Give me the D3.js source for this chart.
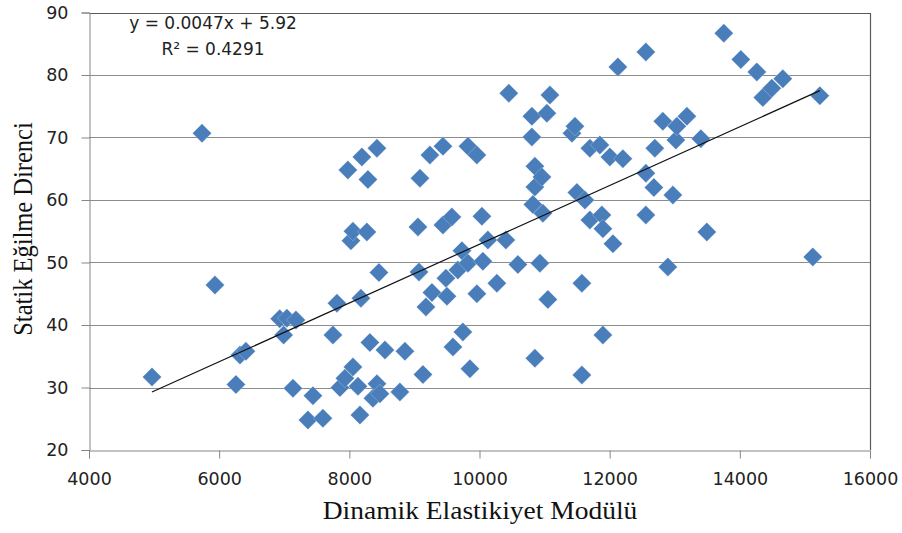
<!DOCTYPE html>
<html>
<head>
<meta charset="utf-8">
<script src="https://cdnjs.cloudflare.com/ajax/libs/d3/7.8.5/d3.min.js"></script>
<style>
    body { margin: 0; background: #fff; }
    svg { display: block; }
</style>
</head>
<body>
<div id="chart"></div>
<script>

// dynamic elasticity modulus (x) and static bending strength (y)
var modulus = [4968, 5736, 5935, 6258, 6320, 6410, 6930, 7040, 7180, 6990,
    7134, 7364, 7441, 7594, 7810, 7748, 7856, 7932, 7978, 8025,
    8055, 8055, 8132, 8163, 8178, 8193, 8270, 8286, 8316, 8363,
    8424, 8424, 8455, 8470, 8547, 8777, 8854, 9054, 9070, 9085,
    9131, 9177, 9238, 9269, 9438, 9438, 9484, 9500, 9576, 9592,
    9668, 9730, 9745, 9822, 9822, 9853, 9960, 9960, 10037, 10052,
    10129, 10267, 10405, 10450, 10590, 10805, 10805, 10820, 10851, 10851,
    10851, 10928, 10959, 10974, 11035, 11051, 11082, 11420, 11466, 11496,
    11573, 11573, 11619, 11696, 11696, 11850, 11880, 11896, 11896, 12003,
    12050, 12126, 12203, 12556, 12556, 12556, 12679, 12694, 12817, 12894,
    12971, 13017, 13032, 13186, 13401, 13493, 13754, 14015, 14261, 14353,
    14491, 14660, 15121, 15229];
var strength = [31.7, 70.7, 46.4, 30.5, 35.2, 35.8, 41.0, 41.1, 40.8, 38.4,
    29.9, 24.8, 28.7, 25.1, 43.5, 38.4, 30.0, 31.5, 64.8, 53.5,
    55.0, 33.3, 30.2, 25.6, 44.3, 66.9, 54.9, 63.3, 37.2, 28.3,
    30.6, 68.3, 48.4, 29.0, 36.0, 29.3, 35.8, 55.7, 48.5, 63.5,
    32.1, 42.9, 67.2, 45.2, 68.6, 56.0, 47.5, 44.6, 57.3, 36.5,
    48.8, 51.9, 38.9, 49.9, 68.6, 33.0, 67.2, 45.0, 57.4, 50.2,
    53.6, 46.7, 53.6, 77.1, 49.7, 73.4, 70.1, 59.3, 65.4, 62.1,
    34.7, 49.9, 63.7, 57.9, 73.9, 44.1, 76.8, 70.7, 71.8, 61.2,
    46.7, 32.0, 60.0, 68.3, 56.8, 68.8, 57.6, 55.4, 38.4, 66.9,
    53.0, 81.3, 66.6, 83.7, 64.3, 57.6, 62.0, 68.3, 72.6, 49.3,
    60.8, 69.6, 71.8, 73.4, 69.8, 54.9, 86.7, 82.5, 80.5, 76.4,
    77.9, 79.4, 50.9, 76.7];

var xTicks = [4000, 6000, 8000, 10000, 12000, 14000, 16000];
var yTicks = [20, 30, 40, 50, 60, 70, 80, 90];
var trendSlope = 0.0047;
var trendIntercept = 5.92;
var trendLabels = ["y = 0.0047x + 5.92", "R\u00b2 = 0.4291"];
var xTitle = "Dinamik Elastikiyet Modülü";
var yTitle = "Statik Eğilme Direnci";

var width = 902, height = 533;
var margin = {top: 12.5, right: 32, bottom: 83, left: 89};

var svg = d3.select("#chart").append("svg")
    .attr("width", width)
    .attr("height", height);

var x = d3.scaleLinear().domain([4000, 16000]).range([margin.left, width - margin.right]);
var y = d3.scaleLinear().domain([20, 90]).range([height - margin.bottom, margin.top]);

var points = modulus.map(function (m, i) {
    return {x: m, y: strength[i]};
});

// horizontal gridlines
svg.append("g").selectAll("line").data(yTicks.slice(1, -1)).enter().append("line")
    .attr("x1", x(4000))
    .attr("x2", x(16000))
    .attr("y1", function (d) { return Math.round(y(d)) + 0.5 })
    .attr("y2", function (d) { return Math.round(y(d)) + 0.5 })
    .style("stroke", "#8c8c8c")
    .style("stroke-width", 1);

// plot area frame (top, right)
svg.append("path")
    .attr("d", "M" + x(4000) + "," + (Math.round(y(90)) + 0.5) + "H" + (Math.round(x(16000)) + 0.5) + "V" + y(20))
    .style("fill", "none")
    .style("stroke", "#5a5a5a")
    .style("stroke-width", 1.2);

// axes
var yAxis = svg.append("g")
    .attr("transform", "translate(" + (Math.round(x(4000)) + 0.5) + ",0)")
    .call(d3.axisLeft(y).tickValues(yTicks).tickSize(8).tickPadding(13));

var xAxis = svg.append("g")
    .attr("transform", "translate(0," + (Math.round(y(20)) + 0.5) + ")")
    .call(d3.axisBottom(x).tickValues(xTicks).tickSize(8).tickPadding(14).tickFormat(d3.format("d")));

[yAxis, xAxis].forEach(function (ax) {
    ax.select(".domain").style("stroke", "#868686");
    ax.selectAll(".tick line").style("stroke", "#868686");
    ax.selectAll(".tick text")
        .style("font-family", "'DejaVu Sans', sans-serif")
        .style("font-size", "17.5px")
        .style("fill", "#222");
});

// markers
var half = 9.5;
svg.append("g").selectAll(".pt").data(points).enter().append("path")
    .classed("pt", true)
    .attr("d", "M0," + (-half) + "L" + half + ",0L0," + half + "L" + (-half) + ",0Z")
    .attr("transform", function (d) {
        return "translate(" + x(d.x) + "," + y(d.y) + ")"
    })
    .style("fill", "#4a7ebb")
    .style("stroke", "#fff")
    .style("stroke-width", 0.4)
    .style("stroke-opacity", 0.6);

// linear trend line over the data range
var xExt = d3.extent(modulus);
svg.append("line")
    .attr("x1", x(xExt[0]))
    .attr("y1", y(trendSlope * xExt[0] + trendIntercept))
    .attr("x2", x(xExt[1]))
    .attr("y2", y(trendSlope * xExt[1] + trendIntercept))
    .style("stroke", "#111")
    .style("stroke-width", 1.2);

// equation
svg.append("g").selectAll("text").data(trendLabels).enter().append("text")
    .attr("x", 213)
    .attr("y", function (d, i) { return 29 + i * 26 })
    .attr("text-anchor", "middle")
    .style("font-family", "'DejaVu Sans', sans-serif")
    .style("font-size", "17px")
    .style("fill", "#222")
    .text(function (d) { return d });

// axis titles
svg.append("text")
    .attr("transform", "translate(480,519) scale(1.1,1)")
    .attr("text-anchor", "middle")
    .style("font-family", "'Liberation Serif', 'Times New Roman', serif")
    .style("font-size", "25px")
    .style("fill", "#111")
    .text(xTitle);

svg.append("text")
    .attr("transform", "translate(32,229) scale(1.15,1) rotate(-90)")
    .attr("text-anchor", "middle")
    .style("font-family", "'Liberation Serif', 'Times New Roman', serif")
    .style("font-size", "24.5px")
    .style("fill", "#111")
    .text(yTitle);

</script>
</body>
</html>
